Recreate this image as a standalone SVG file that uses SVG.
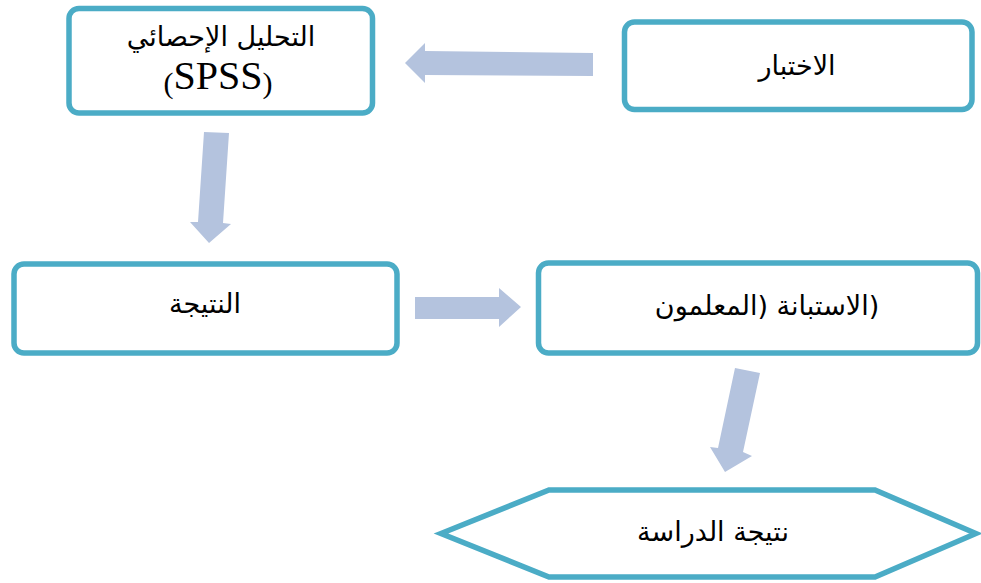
<svg xmlns="http://www.w3.org/2000/svg" width="981" height="583" viewBox="0 0 981 583">
<style>
.box{fill:#ffffff;stroke:#4BACC6;stroke-width:5.5}
.arr{fill:#B4C3DE;stroke:none}
.ar{font-family:'DejaVu Sans',sans-serif;font-size:27px;fill:#000;text-anchor:middle}
.lat{font-family:'Liberation Serif',serif;fill:#000;text-anchor:middle}
</style>
<rect width="981" height="583" fill="#ffffff"/>
<g id="connectors">
<polygon class="arr" points="593,53 425,51 425,43 405,63 425,83 425,75 593,76"/>
<polygon class="arr" points="204,132 229,133 223,223 231,224 209,243 190,222 198,222"/>
<polygon class="arr" points="415,297 499,297 499,288 521,307 499,327 499,319 415,319"/>
<polygon class="arr" points="735,368 760,373 743,452 752,456 725,472 710,447 718,448"/>
</g>
<g id="node-analysis">
<rect class="box" x="69" y="8.5" width="303.5" height="104.5" rx="10"/>
<text class="ar" x="221" y="46" direction="rtl" font-size="30">التحليل الإحصائي</text>
<text class="lat" x="218" y="89" font-size="40"><tspan font-size="30" dy="4">(</tspan><tspan dy="-4">SPSS</tspan><tspan font-size="30" dy="4">)</tspan></text>
</g>
<g id="node-test">
<rect class="box" x="624.5" y="22" width="347.5" height="87.5" rx="10"/>
<text class="ar" x="797" y="75" direction="rtl" font-size="29">الاختبار</text>
</g>
<g id="node-result">
<rect class="box" x="14" y="264" width="383" height="89" rx="10"/>
<text class="ar" x="205" y="313" direction="rtl">النتيجة</text>
</g>
<g id="node-questionnaire">
<rect class="box" x="538.5" y="263" width="439" height="90" rx="10"/>
<text class="ar" x="767" y="315" direction="rtl">(الاستبانة (المعلمون</text>
</g>
<g id="node-study-result">
<polygon class="box" points="441,533.5 549,490 875,490 976,533.5 875,577 549,577"/>
<text class="ar" x="713" y="541" direction="rtl" font-size="26">نتيجة الدراسة</text>
</g>
</svg>
